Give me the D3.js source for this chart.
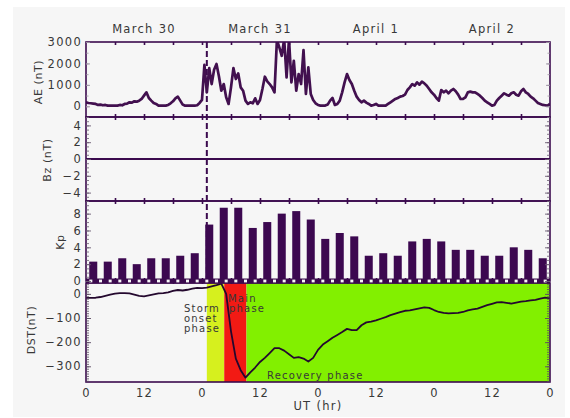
<!DOCTYPE html>
<html><head><meta charset="utf-8">
<script src="https://cdn.jsdelivr.net/npm/d3@7"></script>
<style>
html,body{margin:0;padding:0;background:#ffffff;}
svg{display:block;font-family:"DejaVu Sans",sans-serif;}
</style></head><body>
<svg id="c" width="570" height="418"></svg>
<script>
// ---------------- data ----------------
const dayLabels = ["March 30", "March 31", "April 1", "April 2"];
const xTickValues = [0, 12, 24, 36, 48, 60, 72, 84, 96];
const aeTicks = [0, 1000, 2000, 3000];
const bzTicks = [-4, -2, 0, 2, 4];
const kpTicks = [0, 2, 4, 6, 8];
const dstTicks = [0, -100, -200, -300];

// AE (nT), every 30 min from 0 UT March 30 to 0 UT April 3
const aeValues = [
 186,155,140,124,109,62,78,47,62,30,31,30,30,31,62,47,109,124,186,170,233,217,264,341,
 496,651,388,264,155,109,31,30,30,31,62,140,233,372,450,264,78,30,30,30,30,30,47,155,
 295,1938,651,1783,1038,1705,1977,1403,728,1038,418,109,884,1783,1271,1535,884,728,264,109,186,140,372,109,
 295,806,1380,1163,1038,884,651,3100,2744,2356,3131,1349,3131,1116,2124,728,1504,1038,2620,574,1814,574,295,140,
 62,31,30,31,78,264,388,62,109,264,651,1116,1504,1225,1038,728,450,295,186,264,170,109,31,62,
 109,30,30,30,31,109,186,264,341,388,450,481,543,760,884,1038,961,1116,1008,1147,1070,961,806,651,
 543,388,264,760,651,728,605,728,806,698,543,341,341,419,651,682,651,651,574,496,388,264,186,109,
 30,62,264,388,496,605,543,496,605,651,543,496,698,806,651,574,450,372,264,155,109,62,47,31,109
];
// Bz: no data plotted, only the zero line
const bzZero = [0];
// Kp, 3-hour values
const kpValues = [
 2.3,2.3,2.7,2.0,2.7,2.7,3.0,3.3,
 6.7,8.7,8.7,6.3,7.0,8.0,8.3,7.3,
 5.0,5.7,5.3,3.0,3.3,3.0,4.7,5.0,
 4.7,3.7,3.7,3.0,3.0,4.0,3.7,2.7
];
// Dst (nT), hourly
const dstValues = [
 -17,-17,-16,-13,-8,-3,1,3,3,2,-3,-8,-10,-6,-2,2,3,6,12,16,14,17,22,25,
 24,26,31,36,42,0,-155,-268,-316,-347,-325,-305,-282,-265,-245,-225,-225,-235,-250,-265,-262,-268,-280,-265,
 -232,-210,-196,-182,-170,-158,-145,-150,-150,-130,-118,-115,-110,-103,-96,-88,-82,-76,-70,-68,-64,-60,-56,-58,
 -67,-75,-79,-81,-80,-79,-75,-68,-64,-61,-54,-47,-41,-35,-34,-37,-40,-36,-32,-30,-27,-25,-20,-16,-19
];
const stormOnsetHour = 25;
const phaseBounds = [25, 28.6, 33.2, 96];
const phaseNames = ["onset", "main", "recovery"];

// ---------------- layout ----------------
const svg = d3.select("#c");
const X0 = 86, X1 = 550;
const P = {
  ae:  {top: 42,  bot: 117},
  bz:  {top: 117, bot: 201},
  kp:  {top: 201, bot: 281},
  dst: {top: 283, bot: 382}
};
const purple = "#3b0a4e";
const textCol = "#383838";
const phaseColors = ["#d6f01e", "#f21a14", "#82f000"];

const x = d3.scaleLinear().domain([0, 96]).range([X0, X1]);
const aeY = d3.scaleLinear().domain([-500, 3000]).range([P.ae.bot, P.ae.top]);
const bzY = d3.scaleLinear().domain([-5, 5]).range([P.bz.bot, P.bz.top]);
const kpY = d3.scaleLinear().domain([0, 9.5]).range([P.kp.bot, P.kp.top]);
const dstY = d3.scaleLinear().domain([-365, 45]).range([P.dst.bot, P.dst.top]);

// background box
svg.append("rect").attr("x", 13).attr("y", 7).attr("width", 552).attr("height", 410).attr("fill", "#f6f6f6");

// clip paths
const defs = svg.append("defs");
Object.entries(P).forEach(([k, p]) => {
  defs.append("clipPath").attr("id", "clip-" + k)
    .append("rect").attr("x", X0).attr("y", p.top).attr("width", X1 - X0).attr("height", p.bot - p.top);
});

const txt = (sel) => sel.attr("fill", textCol).attr("font-size", 11).attr("letter-spacing", 1.3);

// ---------------- DST phase regions ----------------
const gDst = svg.append("g").attr("clip-path", "url(#clip-dst)");
phaseNames.forEach((n, i) => {
  gDst.append("rect")
    .attr("x", x(phaseBounds[i])).attr("width", x(phaseBounds[i + 1]) - x(phaseBounds[i]))
    .attr("y", P.dst.top).attr("height", P.dst.bot - P.dst.top)
    .attr("fill", phaseColors[i]);
});

// ---------------- dashed onset line ----------------
svg.append("line")
  .attr("x1", x(stormOnsetHour)).attr("x2", x(stormOnsetHour))
  .attr("y1", P.ae.top).attr("y2", P.kp.bot)
  .attr("stroke", purple).attr("stroke-width", 2).attr("stroke-dasharray", "6,3");

// ---------------- AE ----------------
svg.append("g").attr("clip-path", "url(#clip-ae)")
  .append("path").datum(aeValues)
  .attr("d", d3.line().x((d, i) => x(i * 0.5)).y(d => aeY(d)))
  .attr("fill", "none").attr("stroke", "#42104f").attr("stroke-width", 2.7).attr("stroke-linejoin", "round");

// ---------------- Bz ----------------
svg.selectAll(".bz0").data(bzZero).enter().append("line")
  .attr("x1", X0).attr("x2", X1).attr("y1", d => bzY(d)).attr("y2", d => bzY(d))
  .attr("stroke", purple).attr("stroke-width", 1.8);

// ---------------- Kp bars ----------------
svg.append("g").selectAll("rect").data(kpValues).enter().append("rect")
  .attr("x", (d, i) => x(3 * i + 0.67))
  .attr("width", (d, i) => x(3 * i + 2.33) - x(3 * i + 0.67))
  .attr("y", d => kpY(d))
  .attr("height", d => kpY(0) - kpY(d))
  .attr("fill", "#3c0850");

// ---------------- DST curve ----------------
gDst.append("path").datum(dstValues)
  .attr("d", d3.line().x((d, i) => x(i)).y(d => dstY(d)))
  .attr("fill", "none").attr("stroke", "#24082e").attr("stroke-width", 1.8).attr("stroke-linejoin", "round");

// ---------------- frames & x ticks ----------------
["ae", "bz", "kp", "dst"].forEach(k => {
  const p = P[k];
  svg.append("rect").attr("x", X0).attr("y", p.top).attr("width", X1 - X0).attr("height", p.bot - p.top)
    .attr("fill", "none").attr("stroke", purple).attr("stroke-width", 1.6);
});
const sixH = d3.range(6, 96, 6);
[P.ae.top, P.bz.top, P.kp.top, P.kp.bot].forEach((yy, j) => {
  const ax1 = svg.append("g").attr("transform", `translate(0,${yy})`)
    .call(d3.axisBottom(x).tickValues(sixH).tickSize(3).tickFormat(""));
  const ax2 = svg.append("g").attr("transform", `translate(0,${yy})`)
    .call(d3.axisTop(x).tickValues(sixH).tickSize(j === 0 ? 0 : 3).tickFormat(""));
  [ax1, ax2].forEach(a => { a.select(".domain").remove(); a.selectAll("line").attr("stroke", purple).attr("stroke-width", 1.6); });
});

// checkered band between Kp and DST
svg.append("rect").attr("x", X0).attr("y", 278.5).attr("width", X1 - X0).attr("height", 5).attr("fill", purple);
svg.append("g").selectAll("rect").data(d3.range(1, 96, 2)).enter().append("rect")
  .attr("x", d => x(d) - 1.5).attr("width", 3).attr("y", 279.6).attr("height", 2.8).attr("fill", "#f6f6f6");

// ---------------- y axes ----------------
function yAxis(scale, major, minor, majLen, minLen, col) {
  [[d3.axisLeft, X0, 1], [d3.axisRight, X1, -1]].forEach(([fn, xx, side]) => {
    const gm = svg.append("g").attr("transform", `translate(${xx},0)`)
      .call(fn(scale).tickValues(minor).tickSize(-minLen).tickFormat(""));
    gm.select(".domain").remove();
    gm.selectAll("line").attr("stroke", col).attr("stroke-width", 0.8);
    const g = svg.append("g").attr("transform", `translate(${xx},0)`)
      .call(fn(scale).tickValues(major).tickSize(-majLen).tickPadding(4).tickFormat(d3.format("d")));
    g.select(".domain").remove();
    g.selectAll("line").attr("stroke", col).attr("stroke-width", 0.9);
    if (side === 1) {
      g.selectAll("text").call(txt).attr("font-family", "DejaVu Sans").attr("font-size", 11.5)
        .text(d => (d < 0 ? "\u2212" + Math.abs(d) : String(d)));
    } else {
      g.selectAll("text").remove();
    }
  });
}
yAxis(aeY, aeTicks, d3.range(-500, 3001, 500), 4, 2.5, "#9a90a0");
yAxis(bzY, bzTicks, d3.range(-5, 5.01, 0.5), 5, 3, "#6a5a72");
yAxis(kpY, kpTicks, d3.range(0, 9.51, 0.5), 5, 3, "#6a5a72");
yAxis(dstY, dstTicks, d3.range(-360, 41, 10), 5, 3, "#5a4a62");

// ---------------- x axis labels ----------------
const gx = svg.append("g").attr("transform", `translate(0,${P.dst.bot})`)
  .call(d3.axisBottom(x).tickValues(xTickValues).tickSize(0).tickPadding(7).tickFormat(d => String(d % 24)));
gx.select(".domain").remove();
gx.selectAll("text").call(txt).attr("font-family", "DejaVu Sans").attr("font-size", 11.5);

svg.append("text").attr("x", x(48)).attr("y", 410).attr("text-anchor", "middle").text("UT (hr)").call(txt).attr("font-size", 11.5);

// day labels on top
svg.append("g").selectAll("text").data(dayLabels).enter().append("text")
  .attr("x", (d, i) => x(12 + 24 * i)).attr("y", 33).attr("text-anchor", "middle")
  .text(d => d).call(txt).attr("font-size", 11.5);

// y axis titles
const yTitles = [
  {t: "AE (nT)", x: 38, y: 82},
  {t: "Bz (nT)", x: 47, y: 160},
  {t: "Kp", x: 60, y: 242},
  {t: "DST(nT)", x: 31, y: 330}
];
svg.append("g").selectAll("text").data(yTitles).enter().append("text")
  .attr("transform", d => `translate(${d.x},${d.y}) rotate(-90)`)
  .attr("text-anchor", "middle").attr("dy", "0.35em")
  .text(d => d.t).call(txt).attr("font-size", 11).attr("letter-spacing", 0.6);

// phase annotations
const ann = [
  {t: "Main", x: 228, y: 302},
  {t: "Storm", x: 184, y: 312},
  {t: "phase", x: 229, y: 312},
  {t: "onset", x: 184, y: 322},
  {t: "phase", x: 184, y: 332},
  {t: "Recovery phase", x: 267, y: 379}
];
svg.append("g").selectAll("text").data(ann).enter().append("text")
  .attr("x", d => d.x).attr("y", d => d.y).text(d => d.t).call(txt).attr("font-size", 10).attr("letter-spacing", 1.2);
</script>
</body></html>
